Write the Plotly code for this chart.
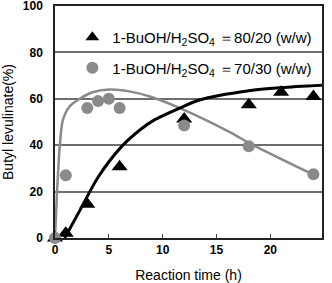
import plotly.graph_objects as go

# Measured data
t_8020 = [0, 1, 3, 6, 12, 18, 21, 24]
y_8020 = [0, 2, 14.5, 30.7, 51.3, 57.4, 62.8, 61]
t_7030 = [0, 1, 3, 4, 5, 6, 12, 18, 24]
y_7030 = [0, 27, 56, 59, 60, 56, 48.5, 39.5, 27.5]

# Fitted curves
curve_t_8020 = [0.9, 2.3, 4.0, 6.2, 8.0, 9.2, 11.6, 13.4, 18.0, 21.0, 24.8]
curve_y_8020 = [0, 11.8, 26.2, 39.5, 47, 50.8, 56, 59.5, 63.5, 64.8, 65.8]
curve_t_7030 = [0, 0.19, 0.45, 0.74, 1.36, 2.3, 3.5, 5.1, 6.9, 8.8, 11.6, 16.5, 18, 23.9]
curve_y_7030 = [0, 20, 40, 51, 56.7, 60, 62.8, 64, 63.2, 61, 56, 45, 41, 27.5]

x_ticks = [0, 5, 10, 15, 20, 25]
y_ticks = [0, 20, 40, 60, 80, 100]

label_8020 = "1-BuOH/H<sub>2</sub>SO<sub>4</sub> ＝80/20 (w/w)"
label_7030 = "1-BuOH/H<sub>2</sub>SO<sub>4</sub> ＝70/30 (w/w)"

gray = "#8a8a8a"
fig = go.Figure()
fig.add_trace(go.Scatter(x=curve_t_7030, y=curve_y_7030, mode="lines",
                         line=dict(color=gray, width=2.5, shape="spline", smoothing=0.8),
                         showlegend=False, hoverinfo="skip", cliponaxis=False))
fig.add_trace(go.Scatter(x=curve_t_8020, y=curve_y_8020, mode="lines",
                         line=dict(color="black", width=3, shape="spline", smoothing=0.8),
                         showlegend=False, hoverinfo="skip", cliponaxis=False))
fig.add_trace(go.Scatter(x=t_8020, y=y_8020, mode="markers", name=label_8020,
                         marker=dict(symbol="triangle-up", size=14, color="black"),
                         legendgroup="a", cliponaxis=False))
fig.add_trace(go.Scatter(x=t_7030, y=y_7030, mode="markers", name=label_7030,
                         marker=dict(symbol="circle", size=12, color=gray),
                         legendgroup="b", cliponaxis=False))

font = "Liberation Sans, Arial, sans-serif"
fig.update_layout(
    width=332, height=283,
    margin=dict(l=55, r=10, t=6, b=45, autoexpand=False),
    paper_bgcolor="white", plot_bgcolor="white",
    font=dict(family=font, color="black"),
    legend=dict(x=0.065, y=0.935, xanchor="left", yanchor="top",
                bgcolor="rgba(0,0,0,0)", font=dict(size=15, family=font),
                traceorder="grouped", tracegroupgap=8, itemsizing="constant"),
)
fig.update_xaxes(range=[0, 24.8], tickmode="array", tickvals=x_ticks,
                 ticktext=[f"<b>{v}</b>" for v in x_ticks], automargin=False,
                 ticklabeloverflow="allow",
                 tickfont=dict(size=12), ticks="inside", ticklen=4, tickcolor="#444",
                 showgrid=False, zeroline=False, showline=True, linecolor="#222",
                 linewidth=1.5, mirror=True,
                 title=dict(text="Reaction time (h)", font=dict(size=14)))
fig.update_yaxes(range=[0, 100], tickmode="array", tickvals=y_ticks,
                 ticktext=[f"<b>{v}</b>" for v in y_ticks], automargin=False,
                 ticklabeloverflow="allow",
                 tickfont=dict(size=12), ticks="outside", ticklen=8, tickcolor="rgba(0,0,0,0)",
                 showgrid=True, gridcolor="#6e6e6e", gridwidth=1.5, zeroline=False,
                 showline=True, linecolor="#222", linewidth=1.5, mirror=True,
                 title=dict(text="Butyl levulinate(%)", font=dict(size=14)))

fig.write_html("out.html", config={"displayModeBar": False},
               post_script="document.body.style.margin='0';")
